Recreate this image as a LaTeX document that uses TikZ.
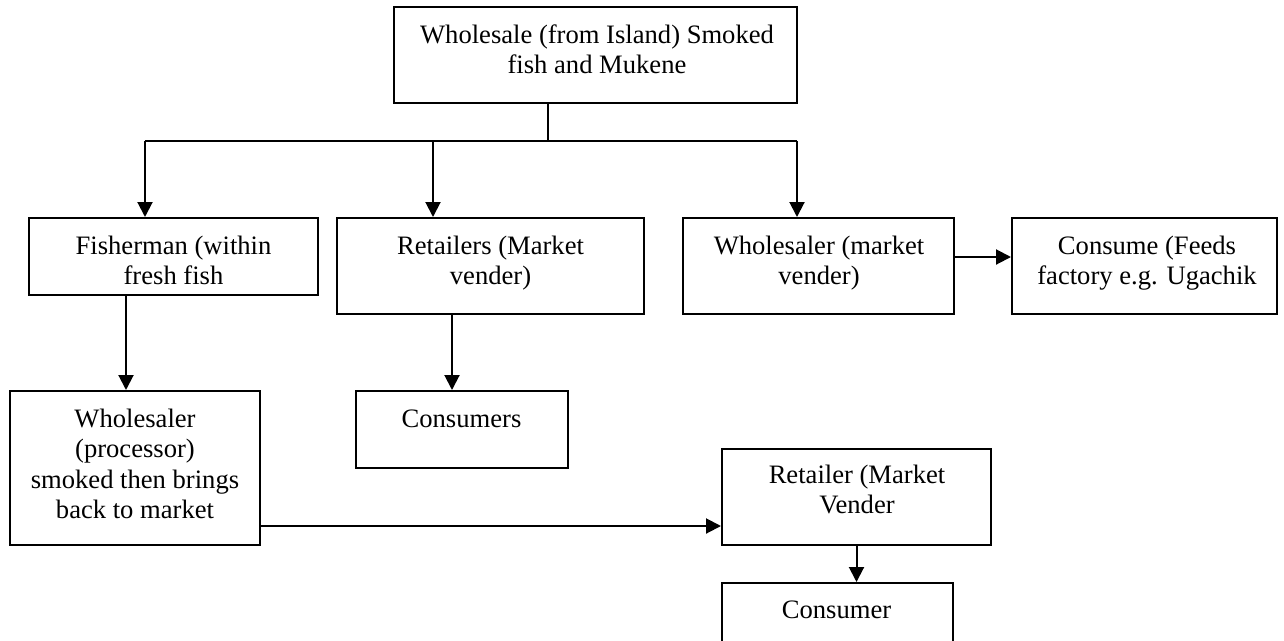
\documentclass[tikz,border=0pt]{standalone}
\usepackage{fontspec}
\setmainfont{Liberation Serif}
\usetikzlibrary{arrows.meta}
% centred lines of a box caption; the baseline is that of the first line
\newcommand\stagetext[1]{\begin{tabular}[t]{@{}c@{}}#1\end{tabular}}
\begin{document}
\begin{tikzpicture}[x=1pt,y=-1pt,
  stage/.style={draw, line width=2pt, inner sep=0pt},
  caption/.style={anchor=base, inner sep=0pt, font=\fontsize{26.6}{30.5}\selectfont},
  link/.style={line width=2pt},
  flow/.style={link, -{Triangle[length=15pt,width=15pt]}}]
\clip (0,0) rectangle (1284,640);

% boxes
\node[stage, minimum width=403pt, minimum height=96pt]  (top)       at (595.5,55)  {};
\node[stage, minimum width=289pt, minimum height=77pt]  (fisher)    at (173.5,256.5) {};
\node[stage, minimum width=307pt, minimum height=96pt]  (retailers) at (490.5,266) {};
\node[stage, minimum width=271pt, minimum height=96pt]  (wholesaler) at (818.5,266) {};
\node[stage, minimum width=265pt, minimum height=96pt]  (consume)   at (1144.5,266) {};
\node[stage, minimum width=250pt, minimum height=154pt] (processor) at (135,468) {};
\node[stage, minimum width=212pt, minimum height=77pt]  (consumers) at (462,429.5) {};
\node[stage, minimum width=269pt, minimum height=96pt]  (retailer)  at (856.5,497) {};
\node[stage, minimum width=231pt, minimum height=77pt]  (consumer)  at (837.5,621.5) {};

% captions
\node[caption] (ttop) at (597,43) {\stagetext{Wholesale (from Island) Smoked\\fish and Mukene}};
\node[caption] (tfisher) at (173.5,254) {\stagetext{Fisherman (within\\fresh fish}};
\node[caption] (tretailers) at (490.5,254) {\stagetext{Retailers (Market\\vender)}};
\node[caption] (twholesaler) at (819,254) {\stagetext{Wholesaler (market\\vender)}};
\node[caption] (tconsume) at (1147,254) {\stagetext{Consume (Feeds\\factory e.g. Ugachik}};
\node[caption] (tprocessor) at (135,427) {\stagetext{Wholesaler\\(processor)\\smoked then brings\\back to market}};
\node[caption] (tconsumers) at (461.5,427) {\stagetext{Consumers}};
\node[caption] (tretailer) at (857,483) {\stagetext{Retailer (Market\\Vender}};
\node[caption] (tconsumer) at (836.5,618) {\stagetext{Consumer}};

% branching from the top box
\coordinate (split) at (548,141);
\coordinate (jl) at (145,141);
\coordinate (jm) at (433,141);
\coordinate (jr) at (797,141);
\draw[link] (top.south -| split) -- (split);
\draw[link] (jl) -- (jr);
\draw[flow] (jl) -- (jl |- fisher.north);
\draw[flow] (jm) -- (jm |- retailers.north);
\draw[flow] (jr) -- (jr |- wholesaler.north);

% remaining flows
\coordinate (fp) at (126,0);
\coordinate (rc) at (452,0);
\coordinate (wc) at (0,257);
\coordinate (pr) at (0,526);
\draw[flow] (fisher.south -| fp) -- (processor.north -| fp);
\draw[flow] (retailers.south -| rc) -- (consumers.north -| rc);
\draw[flow] (wholesaler.east |- wc) -- (consume.west |- wc);
\draw[flow] (processor.east |- pr) -- (retailer.west |- pr);
\draw[flow] (retailer.south) -- (consumer.north -| retailer.south);
\end{tikzpicture}
\end{document}
